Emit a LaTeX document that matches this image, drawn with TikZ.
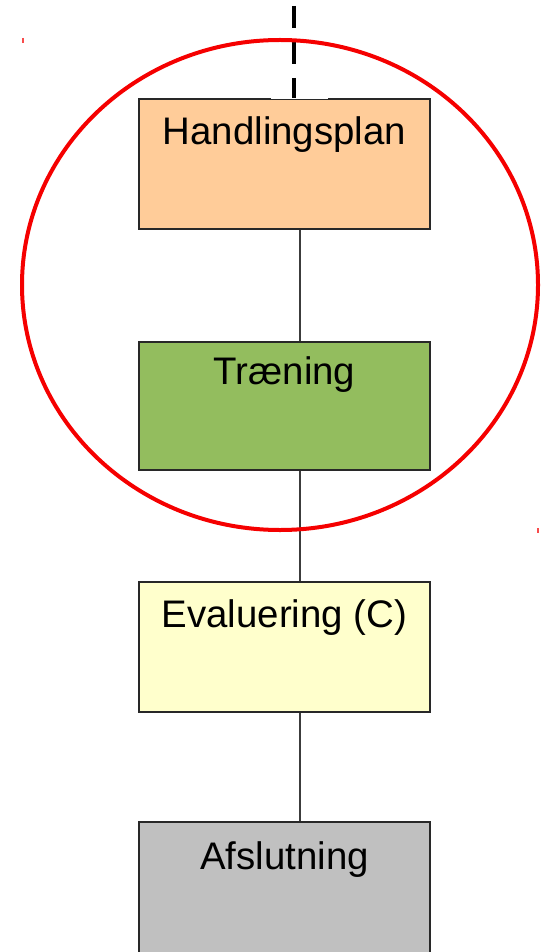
\documentclass[tikz,border=0pt]{standalone}
\usepackage{fontspec}
\setmainfont{Liberation Sans}

\definecolor{planfill}{RGB}{255,204,153}
\definecolor{trainfill}{RGB}{147,189,94}
\definecolor{evalfill}{RGB}{255,255,204}
\definecolor{endfill}{RGB}{192,192,192}
\definecolor{boxline}{RGB}{40,40,40}
\definecolor{ringred}{RGB}{245,0,0}

\tikzset{every picture/.style={line width=0.75pt}}
\tikzset{
  stage/.style={draw=boxline, line width=1.3pt, minimum width=218.25pt, minimum height=97.5pt, inner sep=0pt},
  stagetext/.style={anchor=base, inner sep=0pt, font=\fontsize{28.8}{34}\selectfont},
  link/.style={draw={rgb,255:red,60;green,60;blue,60}, line width=1.1pt},
}

\begin{document}
\begin{tikzpicture}[x=0.75pt,y=0.75pt,yscale=-1,xscale=1]
\useasboundingbox (0,0) rectangle (543,952);

%Shape: Rectangle [id:hp] 
\node [stage, fill=planfill] (hp) at (284.5,164) {};
%Shape: Rectangle [id:tr] 
\node [stage, fill=trainfill, minimum height=96pt] (tr) at (284.5,406) {};
%Shape: Rectangle [id:ev] 
\node [stage, fill=evalfill] (ev) at (284.5,647) {};
%Shape: Rectangle [id:af] 
\node [stage, fill=endfill, minimum height=102pt] (af) at (284.5,890) {};

% Text Node
\node [stagetext] (hpt) at ([yshift=35pt]hp.north) {Handlingsplan};
% Text Node
\node [stagetext] (trt) at ([yshift=32.5pt]tr.north) {Træning};
% Text Node
\node [stagetext] (evt) at ([yshift=34.5pt]ev.north) {Evaluering (C)};
% Text Node
\node [stagetext] (aft) at ([yshift=36pt]af.north) {Afslutning};

%Straight Lines [id:links] 
\coordinate (axis) at (300,0);
\draw [link] (hp.south -| axis) -- (tr.north -| axis);
\draw [link] (tr.south -| axis) -- (ev.north -| axis);
\draw [link] (ev.south -| axis) -- (af.north -| axis);

%Straight Lines [id:gap] 
\coordinate (gapl) at (271,0);
\coordinate (gapr) at (328,0);
\draw [white, line width=2pt] (hp.north -| gapl) -- (hp.north -| gapr);

%Straight Lines [id:dash] 
\coordinate (feed) at (294,6);
\draw [black, line width=3.5pt, dash pattern=on 16.5pt off 10.5pt] (feed) -- (feed |- hp.north);

%Shape: Ellipse [id:ring] 
\draw [ringred, line width=3pt] (280,285) ellipse [x radius=258, y radius=245];

%Straight Lines [id:ticks] 
\draw [ringred!70, line width=1.2pt] (22.7,38) -- (22.7,43);
\draw [ringred!70, line width=1.2pt] (537.7,528) -- (537.7,533);

\end{tikzpicture}
\end{document}
